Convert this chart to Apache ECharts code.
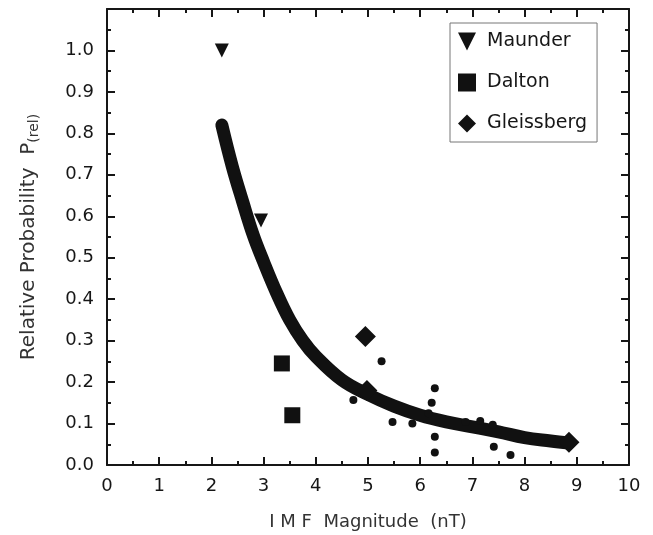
<!DOCTYPE html>
<html>
<head>
<meta charset="utf-8">
<script src="https://cdn.jsdelivr.net/npm/echarts@6/dist/echarts.min.js"></script>
<style>
  html, body { margin: 0; padding: 0; background: #fff; }
  #chart { width: 653px; height: 535px; }
</style>
</head>
<body>
<div id="chart"></div>
<script>
// fitted curve
const curveX = [2.2, 2.4, 2.6, 2.8, 3.0, 3.25, 3.5, 3.75, 4.0, 4.5, 5.0, 5.5, 6.0, 6.5, 7.0, 7.5, 8.0, 8.5, 8.85];
const curveY = [0.82, 0.72, 0.635, 0.555, 0.49, 0.415, 0.35, 0.3, 0.262, 0.205, 0.17, 0.142, 0.12, 0.104, 0.092, 0.08, 0.066, 0.058, 0.053];

const maunderX = [2.2, 2.95];
const maunderY = [1.0, 0.59];
const daltonX = [3.35, 3.55];
const daltonY = [0.245, 0.12];
const gleissX = [4.95, 4.98, 8.85];
const gleissY = [0.31, 0.18, 0.055];

const dotX = [4.72, 5.26, 5.47, 5.85, 6.16, 6.22, 6.28, 6.28, 6.28, 6.87, 7.15, 7.39, 7.41, 7.73];
const dotY = [0.157, 0.25, 0.104, 0.1, 0.125, 0.15, 0.185, 0.068, 0.03, 0.104, 0.106, 0.097, 0.044, 0.024];

const zip = (xs, ys) => xs.map((x, i) => [x, ys[i]]);
const ink = '#161616';
const font = 'DejaVu Sans, sans-serif';

const chart = echarts.init(document.getElementById('chart'));

function frameAxis(extra) {
  return Object.assign({
    type: 'value',
    axisLine: { show: true, onZero: false, lineStyle: { color: ink, width: 2 } },
    axisTick: { show: true, inside: true, length: 8, lineStyle: { color: ink, width: 2 } },
    minorTick: { show: true, splitNumber: 2, length: 4, lineStyle: { color: ink, width: 2 } },
    splitLine: { show: false }
  }, extra);
}

chart.setOption({
  animation: false,
  backgroundColor: '#fff',
  grid: { left: 107, right: 24, top: 9, bottom: 70, outerBoundsMode: 'none' },
  legend: {
    orient: 'vertical',
    left: 450,
    top: 23,
    padding: [9, 10, 9, 8],
    itemGap: 22,
    itemWidth: 18,
    itemHeight: 18,
    borderColor: '#777',
    borderWidth: 1,
    textStyle: { fontFamily: font, fontSize: 19, color: ink, padding: [0, 0, 0, 6] },
    data: [
      { name: 'Maunder', icon: 'path://M0,0 L10,0 L5,10 Z' },
      { name: 'Dalton', icon: 'rect' },
      { name: 'Gleissberg', icon: 'diamond' }
    ]
  },
  xAxis: [
    frameAxis({
      min: 0, max: 10, interval: 1, position: 'bottom',
      name: 'I M F  Magnitude  (nT)',
      nameLocation: 'middle',
      nameGap: 48,
      nameTextStyle: { fontFamily: font, fontSize: 18, color: '#333' },
      axisLabel: { fontFamily: font, fontSize: 18, color: ink, margin: 12 }
    }),
    frameAxis({
      min: 0, max: 10, interval: 1, position: 'top',
      axisLabel: { show: false }
    })
  ],
  yAxis: [
    frameAxis({
      min: 0, max: 1.1, interval: 0.1, position: 'left',
      name: 'Relative Probability  P{s|(rel)}',
      nameLocation: 'middle',
      nameGap: 66,
      nameTextStyle: {
        fontFamily: font, fontSize: 20, color: '#333',
        rich: { s: { fontFamily: font, fontSize: 14, color: '#333', padding: [10, 0, 0, 0] } }
      },
      axisLabel: {
        fontFamily: font, fontSize: 18, color: ink, margin: 13,
        formatter: v => (v <= 1.0001 ? v.toFixed(1) : '')
      }
    }),
    frameAxis({
      min: 0, max: 1.1, interval: 0.1, position: 'right',
      axisLabel: { show: false }
    })
  ],
  series: [
    {
      name: 'fit',
      type: 'line',
      data: zip(curveX, curveY),
      smooth: 0.4,
      showSymbol: false,
      lineStyle: { color: '#111', width: 13, cap: 'round', join: 'round' },
      z: 2
    },
    {
      name: 'other',
      type: 'scatter',
      data: zip(dotX, dotY),
      symbol: 'circle',
      symbolSize: 8,
      itemStyle: { color: '#111', opacity: 1 },
      z: 3
    },
    {
      name: 'Maunder',
      type: 'scatter',
      data: zip(maunderX, maunderY),
      symbol: 'path://M0,0 L10,0 L5,10 Z',
      symbolSize: 14,
      itemStyle: { color: '#111', opacity: 1 },
      z: 4
    },
    {
      name: 'Dalton',
      type: 'scatter',
      data: zip(daltonX, daltonY),
      symbol: 'rect',
      symbolSize: 16,
      itemStyle: { color: '#111', opacity: 1 },
      z: 4
    },
    {
      name: 'Gleissberg',
      type: 'scatter',
      data: zip(gleissX, gleissY),
      symbol: 'diamond',
      symbolSize: 21,
      itemStyle: { color: '#111', opacity: 1 },
      z: 4
    },
    {
      name: 'frame',
      type: 'scatter',
      xAxisIndex: 1,
      yAxisIndex: 1,
      data: [],
      silent: true
    }
  ]
});
</script>
</body>
</html>
